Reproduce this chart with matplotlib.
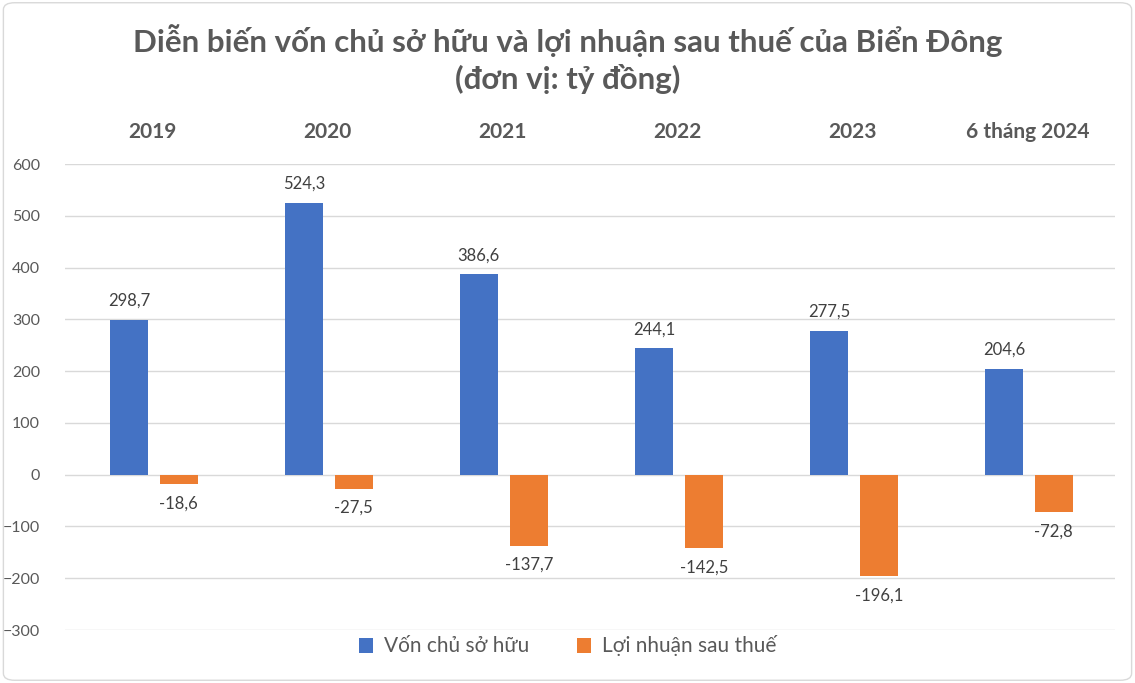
import numpy as np
import matplotlib.pyplot as plt
from matplotlib.patches import FancyBboxPatch

plt.rcParams['font.family'] = ['Lato', 'Open Sans', 'DejaVu Sans']

# data
categories = ["2019", "2020", "2021", "2022", "2023", "6 tháng 2024"]
von_csh = [298.7, 524.3, 386.6, 244.1, 277.5, 204.6]
loi_nhuan = [-18.6, -27.5, -137.7, -142.5, -196.1, -72.8]
series_names = ["Vốn chủ sở hữu", "Lợi nhuận sau thuế"]

blue = "#4472C4"
orange = "#ED7D31"
text_col = "#595959"

fig = plt.figure(figsize=(11.35, 6.83), dpi=100)
ax = fig.add_axes([65 / 1135, 1 - 630 / 683, 1050 / 1135, 466 / 683])

x = np.arange(len(categories))
w = 0.22
b1 = ax.bar(x - 0.135, von_csh, w, color=blue, label=series_names[0], zorder=3)
b2 = ax.bar(x + 0.15, loi_nhuan, w, color=orange, label=series_names[1], zorder=3)

def fmt(v):
    return f"{v:.1f}".replace(".", ",")

for rect, v in zip(b1, von_csh):
    ax.annotate(fmt(v), (rect.get_x() + rect.get_width() / 2, v), xytext=(0, 8),
                textcoords="offset points", ha="center", va="bottom", fontsize=12, color="#404040")
for rect, v in zip(b2, loi_nhuan):
    ax.annotate(fmt(v), (rect.get_x() + rect.get_width() / 2, v), xytext=(0, -8),
                textcoords="offset points", ha="center", va="top", fontsize=12, color="#404040")

ax.set_xlim(-0.5, len(categories) - 0.5)
ax.set_ylim(-300, 600)
ax.set_yticks(np.arange(-300, 601, 100))
ax.yaxis.grid(True, color="#D9D9D9", linewidth=1, zorder=0)
ax.tick_params(axis="y", length=0, labelsize=11.5, labelcolor=text_col, pad=18)
ax.xaxis.tick_top()
ax.set_xticks(x)
ax.set_xticklabels(categories, fontsize=15, fontweight="bold", color=text_col)
ax.tick_params(axis="x", length=0, pad=16)
for s in ax.spines.values():
    s.set_visible(False)

fig.suptitle("Diễn biến vốn chủ sở hữu và lợi nhuận sau thuế của Biển Đông\n(đơn vị: tỷ đồng)",
             y=0.965, fontsize=22.5, fontweight="bold", color=text_col, linespacing=1.3)

fig.legend(loc="center", bbox_to_anchor=(0.5, 1 - 646 / 683), ncol=2, frameon=False,
           fontsize=15, labelcolor=text_col, handlelength=0.7, handleheight=0.7,
           columnspacing=2.3, handletextpad=0.5)

border = FancyBboxPatch((0.003, 0.004), 0.994, 0.992, boxstyle="round,pad=0,rounding_size=0.01",
                        transform=fig.transFigure, fill=False, edgecolor="#D9D9D9", linewidth=1)
fig.patches.append(border)

fig.savefig("out.png", dpi=100)
